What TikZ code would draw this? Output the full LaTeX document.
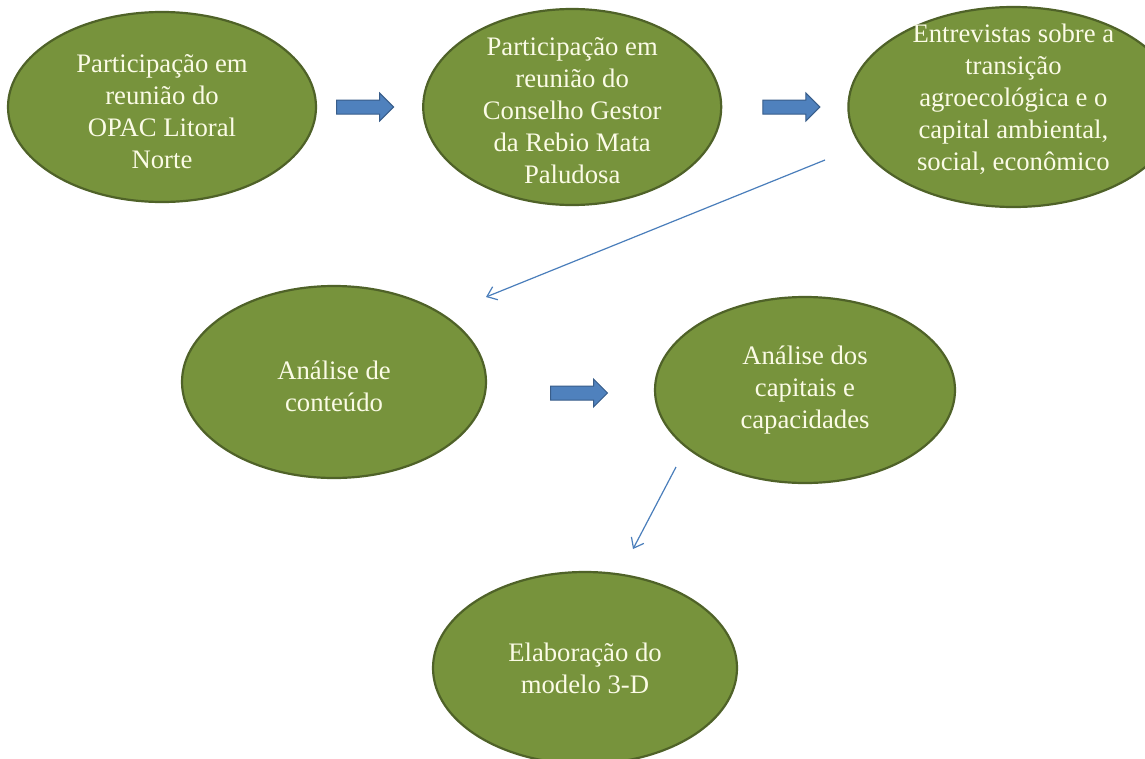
\documentclass[tikz,border=0pt]{standalone}
\usepackage{fontspec}
\setmainfont{Liberation Serif}
\usepackage{tikz}
\usetikzlibrary{arrows.meta,positioning,shapes.geometric,shapes.arrows}
\definecolor{oliveleaf}{HTML}{77933C}
\definecolor{oliveedge}{HTML}{4F6228}
\definecolor{creamtext}{HTML}{FBFBE6}
\definecolor{arrowblue}{HTML}{4F81BD}
\definecolor{arrowedge}{HTML}{385D8A}
\definecolor{linkblue}{HTML}{4A7EBB}
\tikzset{
  stage/.style={ellipse,draw=oliveedge,fill=oliveleaf,line width=2.2pt,inner sep=0pt},
  stagetext/.style={align=center,inner sep=0pt,text=creamtext,font=\fontsize{26.7}{32}\selectfont},
  bigarrow/.style={single arrow,draw=arrowedge,fill=arrowblue,line width=1pt,inner xsep=0pt,inner ysep=6.5pt,
    minimum height=57pt,single arrow head extend=7pt,single arrow head indent=0pt},
  thinarrow/.style={-{Straight Barb[length=9pt,width=14pt]},draw=linkblue,line width=1.2pt}
}

\begin{document}
\begin{tikzpicture}[x=1pt,y=-1pt]
\useasboundingbox (0,0) rectangle (1145,758);
\clip (0,0) rectangle (1145,758);
\fill[white] (0,0) rectangle (1145,758);

\node[stage,minimum width=308pt,minimum height=190pt] (e1) at (162,107) {};
\node[stage,minimum width=298pt,minimum height=196pt,right=105pt of e1] (e2) {};
\node[stage,minimum width=330pt,minimum height=200pt,right=125pt of e2] (e3) {};
\node[stage,minimum width=304pt,minimum height=192pt] (e4) at (334,382) {};
\node[stage,minimum width=300pt,minimum height=186pt] (e5) at (805,390) {};
\node[stage,minimum width=304pt,minimum height=192pt] (e6) at (585,668) {};

\node[stagetext,yshift=-5pt] (e1t) at (e1) {Participação em\\reunião do\\OPAC Litoral\\Norte};
\node[stagetext,yshift=-4pt] (e2t) at (e2) {Participação em\\reunião do\\Conselho Gestor\\da Rebio Mata\\Paludosa};
\node[stagetext,yshift=8pt] (e3t) at (e3) {Entrevistas sobre a\\transição\\agroecológica e o\\capital ambiental,\\social, econômico};
\node[stagetext,yshift=-4pt] (e4t) at (e4) {Análise de\\conteúdo};
\node[stagetext] (e5t) at (e5) {Análise dos\\capitais e\\capacidades};
\node[stagetext] (e6t) at (e6) {Elaboração do\\modelo 3-D};

\node[bigarrow,right=19pt of e1] (a1) {};
\node[bigarrow,right=40pt of e2] (a2) {};
\node[bigarrow] (a3) at (575.5,393) {};

\coordinate (l1s) at (825,160);
\coordinate (l1e) at (486,297);
\coordinate (l2s) at (676,467);
\coordinate (l2e) at (633,549);
\draw[thinarrow] (l1s) -- (l1e);
\draw[thinarrow] (l2s) -- (l2e);
\end{tikzpicture}
\end{document}
